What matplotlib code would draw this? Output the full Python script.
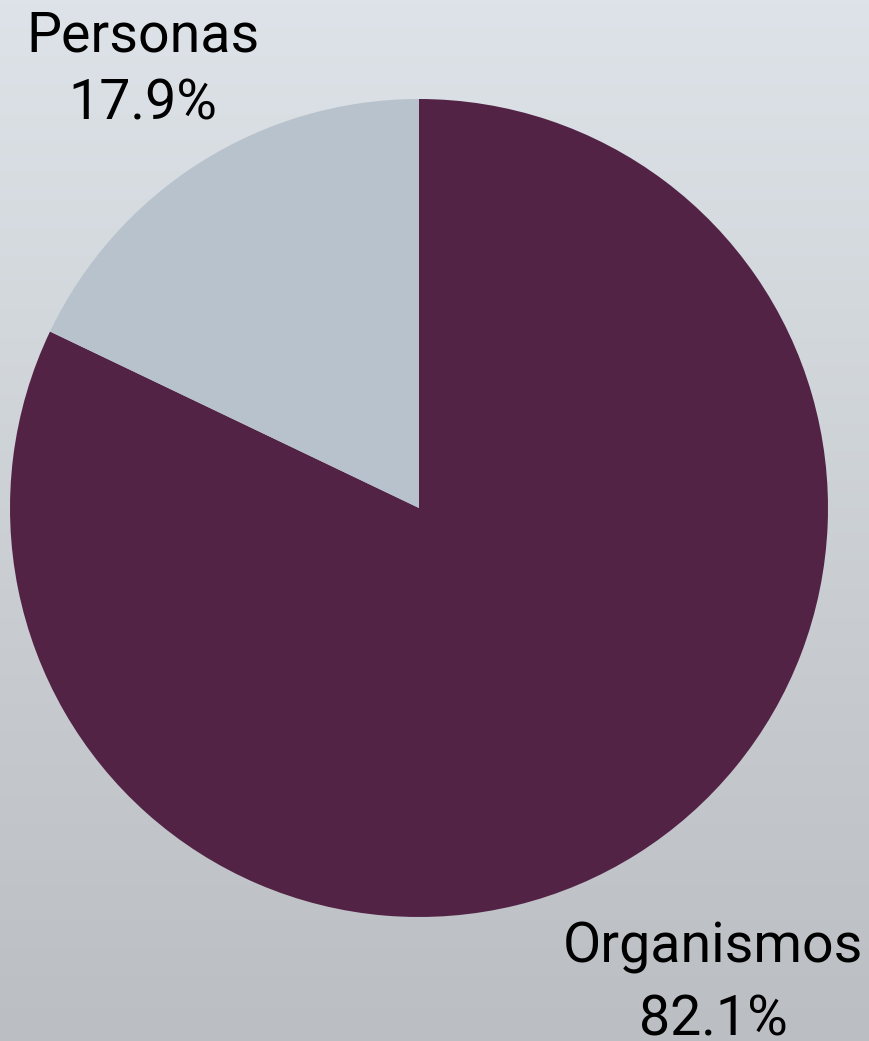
import numpy as np
import matplotlib
matplotlib.use("Agg")
from matplotlib import pyplot as plt
from matplotlib.colors import LinearSegmentedColormap

# data
categories = ["Organismos", "Personas"]
shares = [82.1, 17.9]
colors = ["#532346", "#B7C2CC"]

W, H = 869, 1041
plt.rcParams['font.family'] = ['Roboto', 'DejaVu Sans']

fig = plt.figure(figsize=(W / 100, H / 100), dpi=100)
ax = fig.add_axes([0, 0, 1, 1])

# vertical gradient background (light at top, darker at bottom)
grad = np.linspace(0, 1, 256).reshape(-1, 1)
cmap = LinearSegmentedColormap.from_list("bg", ["#BBBEC3", "#DDE3E8"])
ax.imshow(grad, cmap=cmap, extent=[0, W, 0, H], aspect='auto', zorder=0,
          origin='lower')

cx, cy, r = 419, H - 508, 409
ax.pie(shares, colors=colors, startangle=90, counterclock=False,
       center=(cx, cy), radius=r, frame=True,
       wedgeprops=dict(linewidth=0, zorder=2))
ax.set_xlim(0, W)
ax.set_ylim(0, H)
ax.set_aspect('equal')
ax.axis('off')

# anchor = baseline of the last line
label_pos = {"Organismos": (713, H - 1036, 1.47), "Personas": (143, H - 120, 1.38)}
for cat, val in zip(categories, shares):
    x, y, ls = label_pos[cat]
    ax.text(x, y, f"{cat}\n{val}%", ha='center', va='baseline', fontsize=40,
            linespacing=ls, color='black', zorder=3)

fig.savefig("out.png", dpi=100)
